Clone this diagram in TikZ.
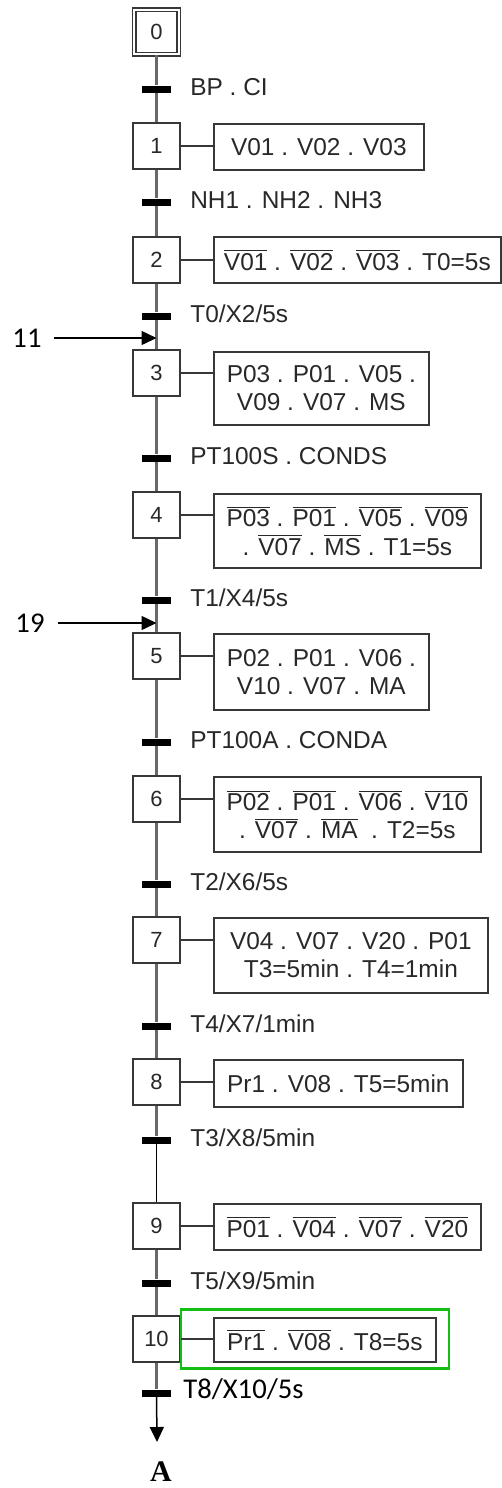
\documentclass[tikz,border=0pt]{standalone}
\usepackage{fontspec}
\setmainfont{Liberation Sans}
\newfontfamily\califont{Carlito}
\newfontfamily\serifbold{Liberation Serif}
\usepackage{tikz}
\usetikzlibrary{arrows.meta}
\definecolor{linegray}{RGB}{105,105,105}
\definecolor{boxgray}{RGB}{55,55,55}
\definecolor{txtgray}{RGB}{40,40,40}
\definecolor{hlgreen}{RGB}{20,190,20}
\newcommand{\nb}[1]{$\overline{\mbox{#1}}$}

\begin{document}
\begin{tikzpicture}[x=0.02cm, y=-0.02cm,
    stepbox/.style={draw=boxgray, line width=0.85pt, minimum width=0.94cm, minimum height=0.92cm,
        inner sep=0pt, text=txtgray, font=\fontsize{12.5}{14}\selectfont},
    actbox/.style={draw=boxgray, line width=1pt, anchor=north west, inner sep=0pt, align=center,
        text=txtgray, font=\fontsize{13.9}{16}\selectfont},
    trbar/.style={fill=black, minimum width=0.58cm, minimum height=0.14cm, inner sep=0pt},
    trlabel/.style={anchor=west, inner sep=0pt, text height=0.72em, text depth=0pt,
        text=txtgray, font=\fontsize{13.9}{16}\selectfont},
    link/.style={draw=linegray, line width=1.2pt},
    conn/.style={draw=boxgray, line width=0.8pt},
    pointer/.style={line width=0.85pt, -{Triangle[length=0.3cm, width=0.28cm]}},
    califnt/.style={font=\califont\fontsize{16.3}{18}\selectfont}]
    \useasboundingbox (0,0) rectangle (502,1488);

    % steps
    \node[stepbox, double, double distance=1.4pt, line width=0.6pt,
        minimum width=0.89cm, minimum height=0.89cm] (s0) at (156.5,32) {0};
    \node[stepbox] (s1) at (156.5,146) {1};
    \node[stepbox] (s2) at (156.5,260) {2};
    \node[stepbox] (s3) at (156.5,373) {3};
    \node[stepbox] (s4) at (156.5,515) {4};
    \node[stepbox] (s5) at (156.5,656) {5};
    \node[stepbox] (s6) at (156.5,799) {6};
    \node[stepbox] (s7) at (156.5,940) {7};
    \node[stepbox] (s8) at (156.5,1082) {8};
    \node[stepbox] (s9) at (156.5,1226) {9};
    \node[stepbox] (s10) at (156.5,1339) {10};

    % transitions
    \node[trbar] (t1) at (156.5,89) {};
    \node[trbar] (t2) at (156.5,202) {};
    \node[trbar] (t3) at (156.5,316) {};
    \node[trbar] (t4) at (156.5,458) {};
    \node[trbar] (t5) at (156.5,600) {};
    \node[trbar] (t6) at (156.5,742) {};
    \node[trbar] (t7) at (156.5,884) {};
    \node[trbar] (t8) at (156.5,1026) {};
    \node[trbar] (t9) at (156.5,1140) {};
    \node[trbar] (t10) at (156.5,1283) {};
    \node[trbar] (t11) at (156.5,1393) {};

    \node[trlabel] (l1) at (190,89) {BP . CI};
    \node[trlabel] (l2) at (190,202) {NH1 . NH2 . NH3};
    \node[trlabel] (l3) at (190,316) {T0/X2/5s};
    \node[trlabel] (l4) at (190,458) {PT100S . CONDS};
    \node[trlabel] (l5) at (190,600) {T1/X4/5s};
    \node[trlabel] (l6) at (190,742) {PT100A . CONDA};
    \node[trlabel] (l7) at (190,884) {T2/X6/5s};
    \node[trlabel] (l8) at (190,1026) {T4/X7/1min};
    \node[trlabel] (l9) at (190,1140) {T3/X8/5min};
    \node[trlabel] (l10) at (190,1283) {T5/X9/5min};
    \node[trlabel, califnt, text height=0.64em, text=black] (l11) at (183,1393) {T8/X10/5s};

    % actions
    \node[actbox, minimum width=4.2cm, minimum height=0.92cm] (a1) at (213,123) {V01 . V02 . V03};
    \node[actbox, minimum width=5.74cm, minimum height=0.92cm] (a2) at (213,236)
        {\nb{V01} . \nb{V02} . \nb{V03} . T0=5s};
    \node[actbox, minimum width=4.3cm, minimum height=1.46cm] (a3) at (213,351)
        {P03 . P01 . V05 .\\ V09 . V07 . MS};
    \node[actbox, minimum width=5.34cm, minimum height=1.48cm] (a4) at (213,493)
        {\nb{P03} . \nb{P01} . \nb{V05} . \nb{V09}\\ . \nb{V07} . \nb{MS} . T1=5s};
    \node[actbox, minimum width=4.3cm, minimum height=1.52cm] (a5) at (213,633)
        {P02 . P01 . V06 .\\ V10 . V07 . MA};
    \node[actbox, minimum width=5.34cm, minimum height=1.5cm] (a6) at (213,776)
        {\nb{P02} . \nb{P01} . \nb{V06} . \nb{V10}\\ . \nb{V07} . \nb{MA}\ \ . T2=5s};
    \node[actbox, minimum width=5.48cm, minimum height=1.5cm] (a7) at (213,917)
        {V04 . V07 . V20 . P01\\ T3=5min . T4=1min};
    \node[actbox, minimum width=4.98cm, minimum height=0.94cm] (a8) at (213,1059)
        {Pr1 . V08 . T5=5min};
    \node[actbox, minimum width=5.34cm, minimum height=0.92cm] (a9) at (213,1203)
        {\nb{P01} . \nb{V04} . \nb{V07} . \nb{V20}};
    \node[actbox, minimum width=4.44cm, minimum height=0.88cm] (a10) at (213,1317)
        {\nb{Pr1} . \nb{V08} . T8=5s};
    \draw[hlgreen, line width=1.7pt] (181,1309) rectangle (449,1368);

    % links
    \draw[link] (s0) -- (t1) -- (s1) -- (t2) -- (s2) -- (t3) -- (s3) -- (t4) -- (s4) -- (t5)
        -- (s5) -- (t6) -- (s6) -- (t7) -- (s7) -- (t8) -- (s8) -- (t9);
    \draw[black, line width=0.85pt] (t9) -- (s9);
    \draw[link] (s9) -- (t10) -- (s10) -- (t11);
    \draw[conn] (s1.east) -- (s1.east -| a1.west);
    \draw[conn] (s2.east) -- (s2.east -| a2.west);
    \draw[conn] (s3.east) -- (s3.east -| a3.west);
    \draw[conn] (s4.east) -- (s4.east -| a4.west);
    \draw[conn] (s5.east) -- (s5.east -| a5.west);
    \draw[conn] (s6.east) -- (s6.east -| a6.west);
    \draw[conn] (s7.east) -- (s7.east -| a7.west);
    \draw[conn] (s8.east) -- (s8.east -| a8.west);
    \draw[conn] (s9.east) -- (s9.east -| a9.west);
    \draw[conn] (s10.east) -- (s10.east -| a10.west);

    % entry arrows and exit
    \node[califnt] (n11) at (27,338) {11};
    \node[califnt] (n19) at (30,623) {19};
    \draw[pointer, shorten <=0.12cm] (n11) -- (n11 -| s3);
    \draw[pointer, shorten <=0.14cm] (n19) -- (n19 -| s5);
    \coordinate (endA) at (157,1442);
    \draw[pointer] (t11.center) -- (endA);
    \node[font=\serifbold\bfseries\fontsize{17}{20}\selectfont] (lA) at (161,1472) {A};
\end{tikzpicture}
\end{document}
